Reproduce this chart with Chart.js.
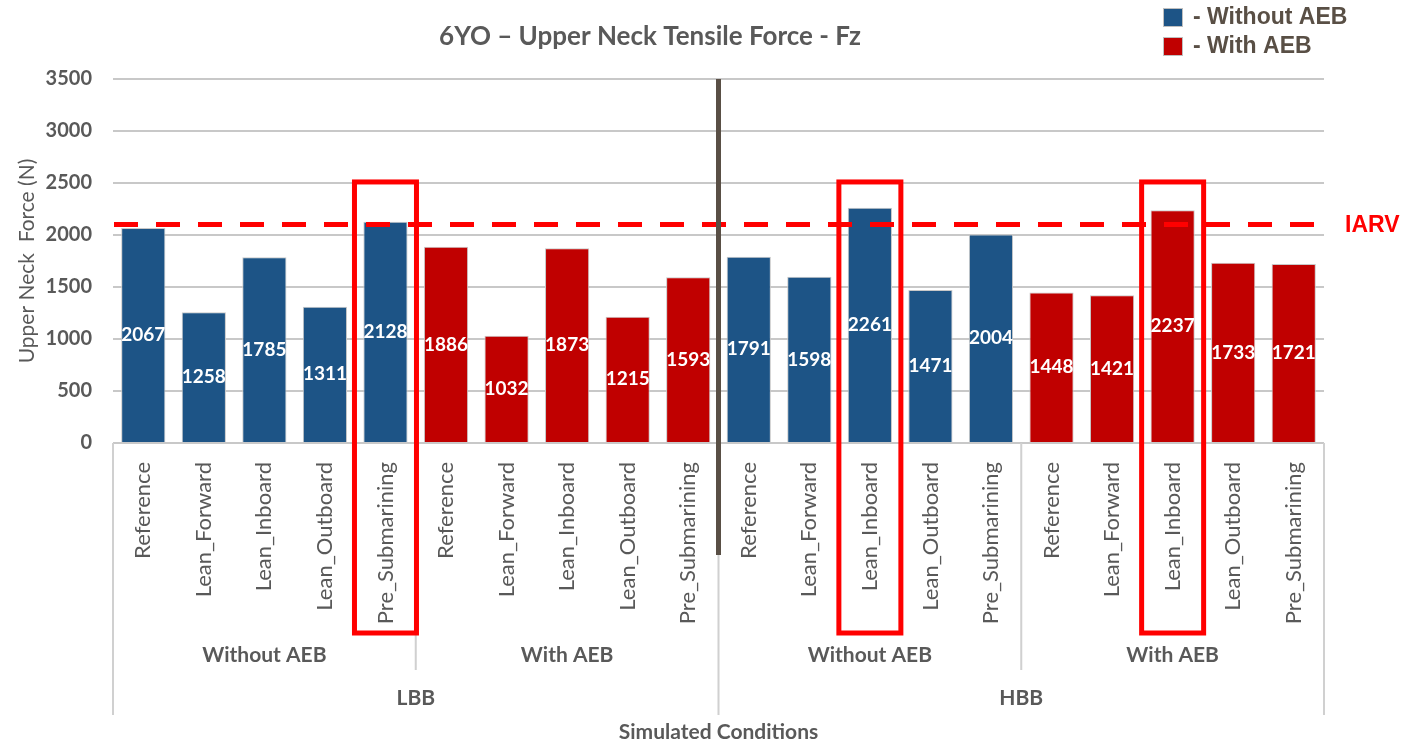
<!DOCTYPE html>
<html>
<head>
<meta charset="utf-8">
<script src="https://cdn.jsdelivr.net/npm/chart.js@4"></script>
<style>
  body { margin: 0; background: #fff; }
  canvas { display: block; }
</style>
</head>
<body>
<canvas id="chart" width="1402" height="744"></canvas>
<script>
// data
const conditions = ["Reference", "Lean_Forward", "Lean_Inboard", "Lean_Outboard", "Pre_Submarining"];
const aebGroups = ["Without AEB", "With AEB", "Without AEB", "With AEB"];
const beltGroups = ["LBB", "HBB"];
const forces = [2067, 1258, 1785, 1311, 2128, 1886, 1032, 1873, 1215, 1593,
                1791, 1598, 2261, 1471, 2004, 1448, 1421, 2237, 1733, 1721];
const yTicks = [0, 500, 1000, 1500, 2000, 2500, 3000, 3500];
const iarv = 2100;
const highlighted = [4, 12, 17];
const highlightTop = 2510;

const BLUE = "#1d5486";
const RED = "#c00000";
const GRAY = "#595959";
const BROWN = "#594f45";
const FONT = "Lato, 'Open Sans', sans-serif";

const labels = [];
aebGroups.forEach(() => conditions.forEach((c) => labels.push(c)));
const barColors = forces.map((v, i) => (Math.floor(i / conditions.length) % 2 === 0 ? BLUE : RED));

const extras = {
  id: "extras",
  afterDatasetsDraw(chart) {
    const ctx = chart.ctx;
    const x = chart.scales.x;
    const y = chart.scales.y;
    const area = chart.chartArea;
    const step = x.getPixelForValue(1) - x.getPixelForValue(0);
    const meta = chart.getDatasetMeta(0);

    // values inside bars
    ctx.save();
    ctx.fillStyle = "#fff";
    ctx.font = "bold 19px " + FONT;
    ctx.textAlign = "center";
    ctx.textBaseline = "middle";
    meta.data.forEach((bar, i) => {
      ctx.fillText(String(forces[i]), bar.x, (bar.y + bar.base) / 2);
    });
    ctx.restore();

    // IARV line
    const yi = y.getPixelForValue(iarv);
    ctx.save();
    ctx.strokeStyle = "#ff0000";
    ctx.lineWidth = 5;
    ctx.setLineDash([24, 18]);
    ctx.beginPath();
    ctx.moveTo(area.left + 1, yi);
    ctx.lineTo(area.right, yi);
    ctx.stroke();
    ctx.setLineDash([]);
    ctx.fillStyle = "#ff0000";
    ctx.font = "bold 23px 'Liberation Sans', Arial, sans-serif";
    ctx.textAlign = "left";
    ctx.textBaseline = "middle";
    ctx.fillText("IARV", area.right + 21, yi + 1);
    ctx.restore();

    // separators under the axis
    const bottom = area.bottom;
    ctx.save();
    ctx.strokeStyle = "#d0d0d0";
    ctx.lineWidth = 2;
    const level1 = [5, 15];
    const level2 = [0, 10, 20];
    ctx.beginPath();
    level1.forEach((k) => {
      const px = x.getPixelForValue(k) - step / 2;
      ctx.moveTo(px, bottom);
      ctx.lineTo(px, bottom + 227);
    });
    level2.forEach((k) => {
      const px = k < labels.length ? x.getPixelForValue(k) - step / 2 : x.getPixelForValue(k - 1) + step / 2;
      ctx.moveTo(px, bottom);
      ctx.lineTo(px, bottom + 272);
    });
    ctx.stroke();

    // group labels
    ctx.fillStyle = GRAY;
    ctx.font = "bold 21px " + FONT;
    ctx.textAlign = "center";
    ctx.textBaseline = "middle";
    aebGroups.forEach((g, k) => {
      const cx = x.getPixelForValue(k * 5 + 2);
      ctx.fillText(g, cx, bottom + 212);
    });
    beltGroups.forEach((g, k) => {
      const cx = (x.getPixelForValue(k * 10 + 4) + x.getPixelForValue(k * 10 + 5)) / 2;
      ctx.fillText(g, cx, bottom + 255);
    });
    ctx.fillText("Simulated Conditions", (area.left + area.right) / 2, bottom + 289);
    ctx.restore();

    // LBB / HBB divider
    const dx = (x.getPixelForValue(9) + x.getPixelForValue(10)) / 2;
    ctx.save();
    ctx.strokeStyle = BROWN;
    ctx.lineWidth = 5;
    ctx.beginPath();
    ctx.moveTo(dx, area.top);
    ctx.lineTo(dx, bottom + 112);
    ctx.stroke();
    ctx.restore();

    // highlight boxes
    ctx.save();
    ctx.strokeStyle = "#ff0000";
    ctx.lineWidth = 5;
    highlighted.forEach((k) => {
      const cx = x.getPixelForValue(k);
      const top = y.getPixelForValue(highlightTop);
      ctx.strokeRect(cx - 31, top, 62, bottom + 190 - top);
    });
    ctx.restore();

    // title
    ctx.save();
    ctx.fillStyle = GRAY;
    ctx.font = "bold 26px " + FONT;
    ctx.textAlign = "center";
    ctx.textBaseline = "middle";
    ctx.fillText("6YO \u2013 Upper Neck Tensile Force - Fz", 650, 37);

    // y title
    ctx.translate(27, (area.top + area.bottom) / 2);
    ctx.rotate(-Math.PI / 2);
    ctx.font = "21px " + FONT;
    ctx.fillText("Upper Neck  Force (N)", 0, 0);
    ctx.restore();

    // legend
    ctx.save();
    const legend = [["- Without AEB", BLUE], ["- With AEB", RED]];
    ctx.font = "bold 23px 'Liberation Sans', Arial, sans-serif";
    ctx.textBaseline = "middle";
    legend.forEach((item, k) => {
      const ly = 17 + k * 29;
      ctx.fillStyle = item[1];
      ctx.fillRect(1163, ly - 9, 20, 19);
      ctx.strokeStyle = "#bfbfbf";
      ctx.lineWidth = 1;
      ctx.strokeRect(1163.5, ly - 8.5, 19, 18);
      ctx.fillStyle = BROWN;
      ctx.fillText(item[0], 1193, ly + 1);
    });
    ctx.restore();
  }
};

new Chart(document.getElementById("chart"), {
  type: "bar",
  data: {
    labels: labels,
    datasets: [{
      data: forces,
      backgroundColor: barColors,
      borderColor: "#c8c8c8",
      borderWidth: 1,
      barPercentage: 0.73,
      categoryPercentage: 1
    }]
  },
  options: {
    responsive: false,
    animation: false,
    layout: { padding: { top: 79, right: 78, left: 0, bottom: 0 } },
    plugins: { legend: { display: false }, tooltip: { enabled: false } },
    scales: {
      x: {
        grid: { display: false },
        border: { display: false },
        ticks: {
          autoSkip: false,
          minRotation: 90,
          maxRotation: 90,
          padding: 11,
          color: GRAY,
          font: { family: FONT, size: 22 }
        },
        afterFit: (s) => { s.height = 301; }
      },
      y: {
        min: 0,
        max: 3500,
        afterBuildTicks: (s) => { s.ticks = yTicks.map((v) => ({ value: v })); },
        grid: { color: "#c8c8c8", lineWidth: 2, drawTicks: false },
        border: { display: false },
        ticks: {
          padding: 21,
          color: GRAY,
          font: { family: FONT, size: 20, weight: "bold" },
          callback: (v) => String(v)
        },
        afterFit: (s) => { s.width = 113; }
      }
    }
  },
  plugins: [extras]
});
</script>
</body>
</html>
